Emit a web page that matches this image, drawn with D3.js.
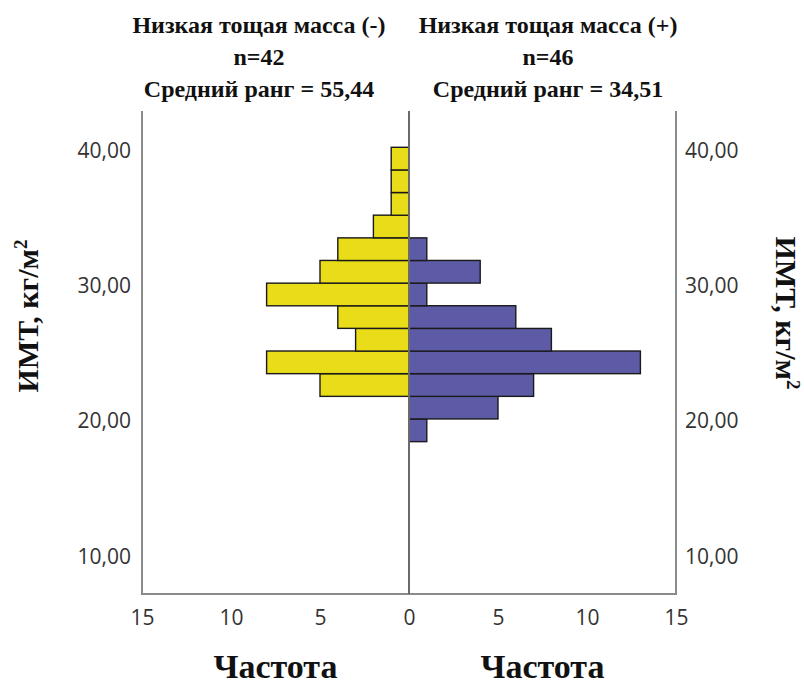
<!DOCTYPE html>
<html>
<head>
<meta charset="utf-8">
<script src="https://cdn.jsdelivr.net/npm/d3@7"></script>
<style>
  html, body { margin: 0; padding: 0; background: #fff; }
  svg { display: block; }
</style>
</head>
<body>
<svg id="chart" width="804" height="686"></svg>
<script>
// ---- data ----
const binLower = [18.48, 20.16, 21.83, 23.51, 25.18, 26.86, 28.53, 30.21, 31.88, 33.56, 35.23, 36.91, 38.58];
const binWidth = 1.675;
const leftCounts  = [0, 0, 5, 8, 3, 4, 8, 5, 4, 2, 1, 1, 1];   // Низкая тощая масса (-)
const rightCounts = [1, 5, 7, 13, 8, 6, 1, 4, 1, 0, 0, 0, 0];  // Низкая тощая масса (+)
const yTicks = [10, 20, 30, 40];
const xTicks = [0, 5, 10, 15];
const leftHeader  = ["Низкая тощая масса (-)", "n=42", "Средний ранг = 55,44"];
const rightHeader = ["Низкая тощая масса (+)", "n=46", "Средний ранг = 34,51"];
const xTitle = "Частота";
const yTitle = "ИМТ, кг/м";

// ---- layout ----
const svg = d3.select("#chart");
const plotTop = 111, plotBottom = 594, xl = 142, xc = 409, xr = 676;
const y = d3.scaleLinear().domain([7.21, 42.94]).range([plotBottom, plotTop]);
const xL = d3.scaleLinear().domain([0, 15]).range([xc, xl]);
const xR = d3.scaleLinear().domain([0, 15]).range([xc, xr]);

const bins = binLower.map((b, i) => ({lo: b, hi: b + binWidth, l: leftCounts[i], r: rightCounts[i]}));

const yellow = "#e9dc19", purple = "#5d5aa6";

// bars
svg.append("g").selectAll("rect").data(bins.filter(d => d.l > 0)).join("rect")
  .attr("x", d => xL(d.l)).attr("width", d => xL(0) - xL(d.l))
  .attr("y", d => y(d.hi)).attr("height", d => y(d.lo) - y(d.hi))
  .attr("fill", yellow).attr("stroke", "#1a1a1a").attr("stroke-width", 1.4);
svg.append("g").selectAll("rect").data(bins.filter(d => d.r > 0)).join("rect")
  .attr("x", xR(0)).attr("width", d => xR(d.r) - xR(0))
  .attr("y", d => y(d.hi)).attr("height", d => y(d.lo) - y(d.hi))
  .attr("fill", purple).attr("stroke", "#1a1a1a").attr("stroke-width", 1.4);

// frame lines
const frame = svg.append("g").attr("fill", "none");
frame.append("line").attr("x1", xl).attr("x2", xl).attr("y1", plotTop).attr("y2", plotBottom).attr("stroke", "#8a8a8a").attr("stroke-width", 2);
frame.append("line").attr("x1", xr).attr("x2", xr).attr("y1", plotTop).attr("y2", plotBottom).attr("stroke", "#8a8a8a").attr("stroke-width", 2);
frame.append("line").attr("x1", xl - 1).attr("x2", xr + 1).attr("y1", plotBottom).attr("y2", plotBottom).attr("stroke", "#8a8a8a").attr("stroke-width", 2);
frame.append("line").attr("x1", xc).attr("x2", xc).attr("y1", plotTop).attr("y2", plotBottom).attr("stroke", "#6a6a6a").attr("stroke-width", 2);

const fmt = d => d3.format(".2f")(d).replace(".", ",");
const tickFont = "'Open Sans', sans-serif";

// y axes
const yAxL = svg.append("g").attr("transform", `translate(${xl},0)`)
  .call(d3.axisLeft(y).tickValues(yTicks).tickFormat(fmt).tickSize(0).tickPadding(11));
const yAxR = svg.append("g").attr("transform", `translate(${xr},0)`)
  .call(d3.axisRight(y).tickValues(yTicks).tickFormat(fmt).tickSize(0).tickPadding(9));
// x axes
const xAxL = svg.append("g").attr("transform", `translate(0,${plotBottom})`)
  .call(d3.axisBottom(xL).tickValues(xTicks.filter(d => d > 0)).tickSize(0).tickPadding(16));
const xAxR = svg.append("g").attr("transform", `translate(0,${plotBottom})`)
  .call(d3.axisBottom(xR).tickValues(xTicks).tickSize(0).tickPadding(16));

[yAxL, yAxR, xAxL, xAxR].forEach(g => {
  g.select(".domain").remove();
  g.selectAll("text").attr("font-family", tickFont).attr("font-size", 21).attr("fill", "#333");
});

// headers
const serif = "'Liberation Serif', 'Times New Roman', serif";
function header(lines, cx) {
  const t = svg.append("text").attr("text-anchor", "middle").attr("font-family", serif)
    .attr("font-weight", "bold").attr("font-size", 24).attr("fill", "#111");
  lines.forEach((s, i) => t.append("tspan").attr("x", cx).attr("y", 33 + i * 32).text(s));
}
header(leftHeader, 259);
header(rightHeader, 548);

// x titles
[(xl + xc) / 2, (xc + xr) / 2].forEach(cx => {
  svg.append("text").attr("x", cx).attr("y", 678).attr("text-anchor", "middle")
    .attr("font-family", serif).attr("font-weight", "bold").attr("font-size", 34).attr("fill", "#111")
    .text(xTitle);
});

// y titles
function yTitleText(x, yc, rot) {
  const t = svg.append("text").attr("transform", `translate(${x},${yc}) rotate(${rot})`)
    .attr("text-anchor", "middle").attr("font-family", serif).attr("font-weight", "bold")
    .attr("font-size", 30).attr("fill", "#111");
  t.append("tspan").text(yTitle);
  t.append("tspan").attr("font-size", 19).attr("dy", -11).text("2");
}
yTitleText(38, 316, -90);
yTitleText(776, 313, 90);
</script>
</body>
</html>
